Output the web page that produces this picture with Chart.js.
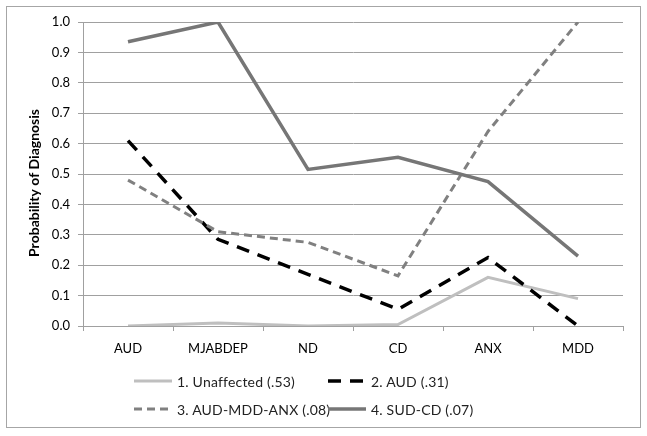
<!DOCTYPE html>
<html>
<head>
<meta charset="utf-8">
<script src="https://cdn.jsdelivr.net/npm/chart.js@4/dist/chart.umd.min.js"></script>
<style>
  html, body { margin: 0; padding: 0; background: #fff; }
  #wrap { position: relative; width: 647px; height: 436px; }
  #c { position: absolute; left: 0; top: 0; }
  .leg { position: absolute; font-family: Lato, "Open Sans", sans-serif; font-size: 14px; letter-spacing: 0.2px; color: #222; display: flex; align-items: center; white-space: nowrap; }
  .leg svg { margin-right: 5px; }
</style>
</head>
<body>
<div id="wrap">
  <canvas id="c" width="647" height="436"></canvas>
  <div id="legend"></div>
</div>
<script>
const categories = ['AUD', 'MJABDEP', 'ND', 'CD', 'ANX', 'MDD'];
const unaffected = [0.0, 0.01, 0.0, 0.005, 0.16, 0.09];
const aud        = [0.61, 0.285, 0.17, 0.055, 0.225, 0.0];
const audMddAnx  = [0.48, 0.31, 0.275, 0.165, 0.64, 1.0];
const sudCd      = [0.935, 1.0, 0.515, 0.555, 0.475, 0.23];
const seriesLabels = ['1. Unaffected (.53)', '2. AUD (.31)', '3. AUD-MDD-ANX (.08)', '4. SUD-CD (.07)'];
const yTickLabels = ['0.0','0.1','0.2','0.3','0.4','0.5','0.6','0.7','0.8','0.9','1.0'];
const yTitle = 'Probability of Diagnosis';

const styles = [
  { color: '#bfbfbf', width: 3, dash: [] },
  { color: '#000000', width: 3.5, dash: [13, 9] },
  { color: '#808080', width: 3, dash: [8, 5] },
  { color: '#767676', width: 3.5, dash: [] }
];
const seriesData = [unaffected, aud, audMddAnx, sudCd];

const frame = {
  id: 'frame',
  beforeDraw(chart) {
    const ctx = chart.ctx;
    ctx.save();
    ctx.strokeStyle = '#a6a6a6';
    ctx.lineWidth = 1;
    ctx.strokeRect(6.5, 6.5, 634, 421);
    ctx.restore();
  },
  afterDraw(chart) {
    const ctx = chart.ctx;
    ctx.save();
    ctx.translate(34, 183);
    ctx.rotate(-Math.PI / 2);
    ctx.font = 'bold 14px Lato, "Open Sans", sans-serif';
    ctx.fillStyle = '#000';
    ctx.textAlign = 'center';
    ctx.textBaseline = 'middle';
    ctx.fillText(yTitle, 0, 0);
    ctx.restore();
  }
};

new Chart(document.getElementById('c'), {
  type: 'line',
  data: {
    labels: categories,
    datasets: seriesData.map((d, i) => ({
      label: seriesLabels[i],
      data: d,
      borderColor: styles[i].color,
      backgroundColor: styles[i].color,
      borderWidth: styles[i].width,
      borderDash: styles[i].dash,
      pointRadius: 0,
      pointHoverRadius: 0,
      tension: 0,
      fill: false
    })).reverse()
  },
  options: {
    responsive: false,
    animation: false,
    events: [],
    layout: { padding: { left: 0, top: 22, right: 24, bottom: 0 } },
    plugins: { legend: { display: false }, tooltip: { enabled: false } },
    scales: {
      x: {
        offset: true,
        grid: { display: true, drawOnChartArea: false, drawTicks: true, tickLength: 5, offset: true, color: '#a0a0a0' },
        border: { display: true, color: '#a0a0a0' },
        ticks: { color: '#000', padding: 10, font: { family: 'Lato, "Open Sans", sans-serif', size: 13 }, maxRotation: 0 },
        afterFit(scale) { scale.height = 110; }
      },
      y: {
        min: 0, max: 1,
        grid: { color: '#a0a0a0', tickLength: 5, drawTicks: true },
        border: { display: true, color: '#a0a0a0' },
        ticks: {
          stepSize: 0.1, padding: 8, color: '#000',
          font: { family: 'Lato, "Open Sans", sans-serif', size: 13 },
          callback: (v, i) => yTickLabels[i]
        },
        afterFit(scale) { scale.width = 83; }
      }
    }
  },
  plugins: [frame]
});

// HTML legend (two columns, two rows)
const legendPos = [
  { x: 134, y: 381 }, { x: 328, y: 381 },
  { x: 134, y: 409 }, { x: 328, y: 409 }
];
const legEl = document.getElementById('legend');
seriesLabels.forEach((lab, i) => {
  const s = styles[i];
  const div = document.createElement('div');
  div.className = 'leg';
  div.style.left = legendPos[i].x + 'px';
  div.style.top = (legendPos[i].y - 9) + 'px';
  div.style.height = '18px';
  const dash = s.dash.length ? s.dash.join(',') : 'none';
  div.innerHTML = '<svg width="38" height="6"><line x1="0" y1="3" x2="38" y2="3" stroke="' + s.color +
    '" stroke-width="' + s.width + '" stroke-dasharray="' + dash + '"/></svg><span></span>';
  div.querySelector('span').textContent = lab;
  legEl.appendChild(div);
});
</script>
</body>
</html>
